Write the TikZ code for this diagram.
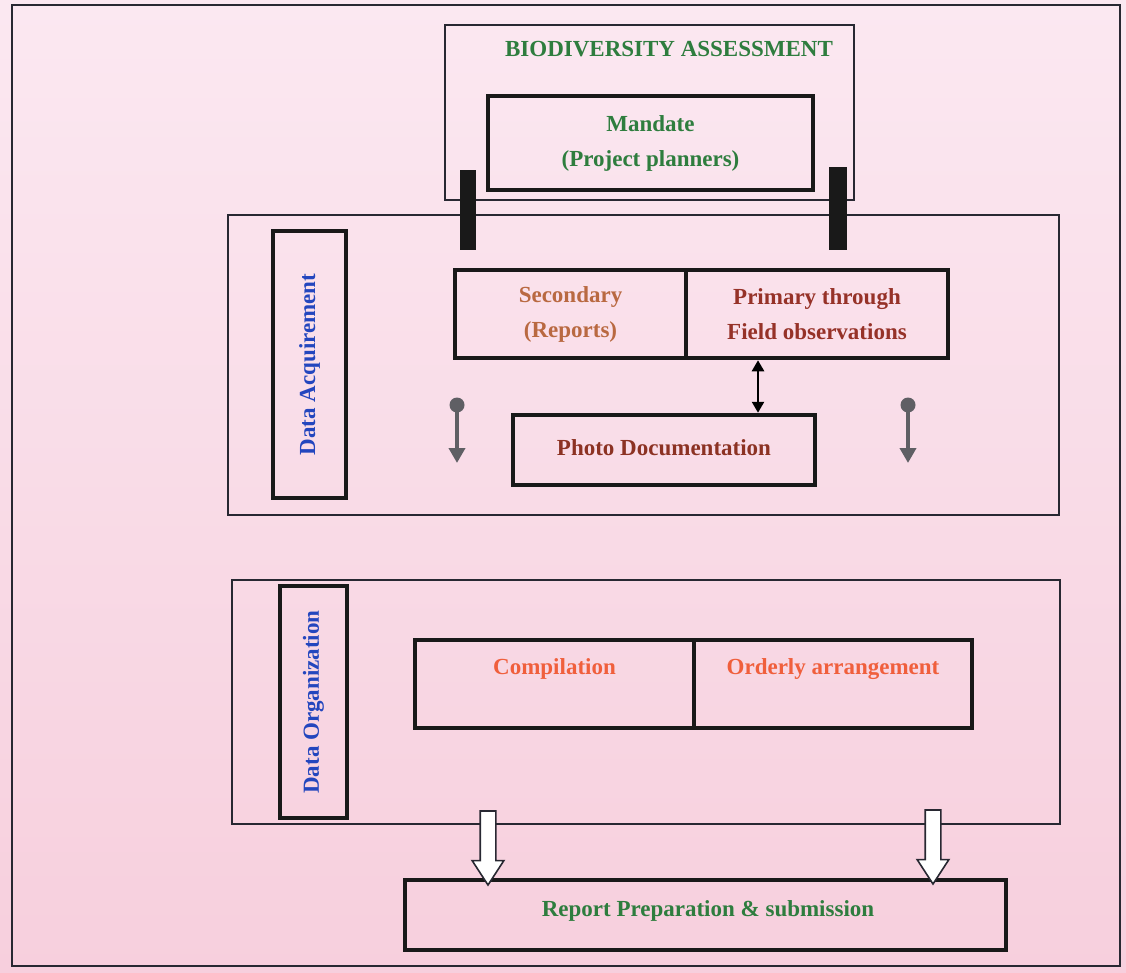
\documentclass[tikz,border=0pt]{standalone}
\usepackage{fontspec}
\setmainfont{Liberation Serif}
\usetikzlibrary{arrows.meta,shapes.arrows}
\definecolor{bgtop}{RGB}{251,232,241}
\definecolor{bgbot}{RGB}{247,207,221}
\definecolor{tgreen}{RGB}{46,125,62}
\definecolor{tsec}{RGB}{185,105,65}
\definecolor{tprim}{RGB}{150,50,40}
\definecolor{tphoto}{RGB}{140,50,35}
\definecolor{torange}{RGB}{240,95,60}
\definecolor{tblue}{RGB}{35,70,190}
\definecolor{pin}{RGB}{95,95,100}
\definecolor{frame}{RGB}{40,40,50}
\tikzset{
  thinbox/.style={draw=frame, line width=1.8pt, rectangle, inner sep=0pt},
  thickbox/.style={draw=black!90, line width=4.5pt, rectangle, inner sep=0pt, align=center},
  bar/.style={fill=black!90, draw=none, rectangle, inner sep=0pt},
  txt/.style={font=\fontsize{23}{35}\selectfont\bfseries, align=center, inner sep=0pt},
  pinhead/.style={circle, fill=pin, draw=none, minimum size=15pt, inner sep=0pt},
  pinarrow/.style={draw=pin, line width=4pt, -{Triangle[width=16pt,length=15pt]}},
  dblarrow/.style={draw=black, line width=2.5pt, {Triangle[width=12pt,length=11pt]}-{Triangle[width=12pt,length=11pt]}},
  openarrow/.style={single arrow, draw=frame, line width=1.6pt, fill=white, shape border rotate=270,
     minimum height=74pt, single arrow head extend=8pt,
     single arrow head indent=0pt, inner sep=7pt, single arrow tip angle=66}
}
\begin{document}
\begin{tikzpicture}[x=1pt,y=-1pt]
\useasboundingbox (0,0) rectangle (1126,973);
\shade[top color=bgtop, bottom color=bgbot] (0,0) rectangle (1126,973);
% outer frame
\node[thinbox, minimum width=1108pt, minimum height=961pt] (frame) at (566,485.5) {};
% top block
\node[thinbox, minimum width=409pt, minimum height=175pt] (bio) at (649.5,112.5) {};
\node[txt, text=tgreen] (biot) at (669,49) {BIODIVERSITY ASSESSMENT};
\node[thickbox, minimum width=325pt, minimum height=94pt] (mandate) at (650.5,143) {};
\node[txt, text=tgreen] (mandt) at (650.5,143) {Mandate\\(Project planners)};
% acquirement block
\node[thinbox, minimum width=831pt, minimum height=300pt] (acq) at (643.5,365) {};
\node[bar, minimum width=16pt, minimum height=80pt] (barL) at (468,210) {};
\node[bar, minimum width=18pt, minimum height=83pt] (barR) at (838,208.5) {};
\node[thickbox, minimum width=73pt, minimum height=267pt] (acql) at (309.5,364.5) {};
\node[txt, text=tblue, rotate=90] (acqt) at (309.5,364.5) {Data Acquirement};
\node[thickbox, minimum width=231pt, minimum height=88pt] (sec) at (570.5,314) {};
\node[txt, text=tsec] (sect) at (570.5,314) {Secondary\\(Reports)};
\node[thickbox, minimum width=262pt, minimum height=88pt] (prim) at (817,314) {};
\node[txt, text=tprim] (primt) at (817,314) {Primary through\\Field observations};
\node[thickbox, minimum width=302pt, minimum height=70pt] (photo) at (664,450) {};
\node[txt, text=tphoto] (photot) at (664,448) {Photo Documentation};
\coordinate (dbl) at (758,0);
\draw[dblarrow] (prim.south -| dbl) -- (photo.north -| dbl);
\node[pinhead] (pinL) at (457,405) {};
\coordinate (pinLend) at (457,463);
\draw[pinarrow] (pinL.center) -- (pinLend);
\node[pinhead] (pinR) at (908,405) {};
\coordinate (pinRend) at (908,463);
\draw[pinarrow] (pinR.center) -- (pinRend);
% organization block
\node[thinbox, minimum width=828pt, minimum height=244pt] (org) at (646,702) {};
\node[thickbox, minimum width=67pt, minimum height=232pt] (orgl) at (313.5,702) {};
\node[txt, text=tblue, rotate=90] (orgt) at (313.5,702) {Data Organization};
\node[thickbox, minimum width=279pt, minimum height=88pt] (comp) at (554.5,684) {};
\node[txt, text=torange] (compt) at (554.5,669) {Compilation};
\node[thickbox, minimum width=278pt, minimum height=88pt] (ord) at (833,684) {};
\node[txt, text=torange] (ordt) at (833,669) {Orderly arrangement};
% report
\node[thickbox, minimum width=601pt, minimum height=70pt] (rep) at (705.5,915) {};
\node[txt, text=tgreen] (rept) at (708,911) {Report Preparation \& submission};
\node[openarrow] (arL) at (488,842) {};
\node[openarrow] (arR) at (933,841) {};
\end{tikzpicture}
\end{document}
